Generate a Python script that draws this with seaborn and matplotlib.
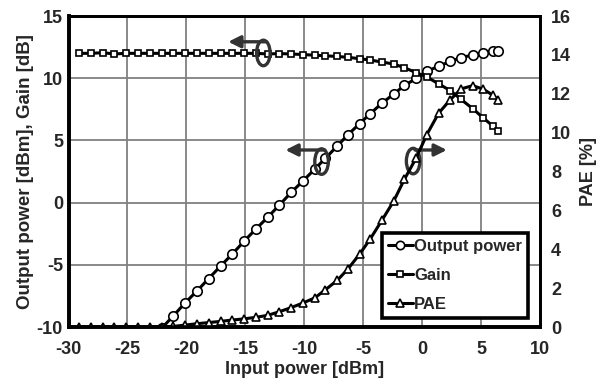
#!/usr/bin/env python3
"""PA sweep: output power, gain and PAE vs input power"""
import matplotlib
matplotlib.use('Agg')
import matplotlib.pyplot as plt
import seaborn as sns
from matplotlib.patches import Ellipse
from matplotlib.lines import Line2D

sns.set_style('white')
plt.rcParams['font.family'] = ['Liberation Sans', 'DejaVu Sans']
plt.rcParams['font.weight'] = 'bold'
plt.rcParams['axes.labelweight'] = 'bold'
plt.rcParams['axes.unicode_minus'] = False

pin = [-29.1, -28.1, -27.1, -26.1, -25.1, -24.1, -23.1, -22.1, -21.1, -20.1,
       -19.1, -18.1, -17.1, -16.1, -15.1, -14.1, -13.1, -12.1, -11.1, -10.1,
       -9.1, -8.2, -7.2, -6.3, -5.3, -4.4, -3.4, -2.4, -1.5, -0.5,
       0.4, 1.4, 2.4, 3.3, 4.3, 5.2, 6.0, 6.4]
pout = [-17.1, -16.1, -15.05, -14.15, -13.1, -12.1, -11.1, -10.1, -9.1, -8.05,
        -7.1, -6.1, -5.1, -4.13, -3.1, -2.12, -1.18, -0.19, 0.83, 1.75,
        2.7, 3.57, 4.55, 5.45, 6.35, 7.15, 8.0, 8.73, 9.42, 9.98,
        10.55, 10.97, 11.35, 11.65, 11.87, 12.05, 12.16, 12.19]
gain = [12.0, 12.0, 12.05, 11.95, 12.0, 12.0, 12.0, 12.0, 12.0, 12.0,
        12.0, 12.0, 12.0, 12.0, 12.0, 12.0, 11.95, 11.98, 11.95, 11.9,
        11.85, 11.8, 11.75, 11.68, 11.57, 11.46, 11.3, 11.14, 10.84, 10.45,
        10.1, 9.55, 9.0, 8.3, 7.55, 6.8, 6.16, 5.78]
pae = [0, 0, 0, 0, 0, 0, 0, 0, 0.03, 0.1,
       0.17, 0.23, 0.29, 0.36, 0.42, 0.5, 0.6, 0.79, 1.0, 1.24,
       1.5, 1.92, 2.4, 2.98, 3.75, 4.53, 5.5, 6.49, 7.6, 8.7,
       9.9, 11.0, 11.7, 12.25, 12.42, 12.23, 11.93, 11.7]

x_ticks = [-30, -25, -20, -15, -10, -5, 0, 5, 10]
left_ticks = [-10, -5, 0, 5, 10, 15]
right_ticks = [0, 2, 4, 6, 8, 10, 12, 14, 16]

FS = 13
LW = 2.2
ANN = '#333333'
mk = dict(markerfacecolor='white', markeredgecolor='black', markeredgewidth=1.2)

fig = plt.figure(figsize=(6.15, 3.87), dpi=100)
ax = fig.add_axes([0.1114, 0.155, 0.7666, 0.8036])
ax2 = ax.twinx()

sns.lineplot(x=pin, y=pout, ax=ax, color='black', linewidth=LW, marker='o', markersize=6.8, **mk)
sns.lineplot(x=pin, y=gain, ax=ax, color='black', linewidth=LW, marker='s', markersize=5, **mk)
sns.lineplot(x=pin, y=pae, ax=ax2, color='black', linewidth=LW, marker='^', markersize=6.3, **mk)

ax.set_xlim(-30, 10)
ax.set_ylim(-10, 15)
ax2.set_ylim(0, 16)
ax.set_xticks(x_ticks)
ax.set_yticks(left_ticks)
ax2.set_yticks(right_ticks)
ax.grid(True, color='#808080', linewidth=1.3)
ax.set_axisbelow(True)

ax.tick_params(axis='x', length=0, pad=10, labelsize=FS)
ax.tick_params(axis='y', length=0, pad=4, labelsize=FS)
ax2.tick_params(axis='y', length=0, pad=8, labelsize=FS)
for lab in ax.get_xticklabels() + ax.get_yticklabels() + ax2.get_yticklabels():
    lab.set_fontweight('bold')

ax.set_xlabel('Input power [dBm]', fontsize=FS, labelpad=2)
ax.set_ylabel('Output power [dBm], Gain [dB]', fontsize=FS + 0.5, labelpad=2)
ax2.set_ylabel('PAE [%]', fontsize=FS, labelpad=6)

for a in (ax, ax2):
    for side in ('top', 'right'):
        a.spines[side].set_linewidth(2.0)
        a.spines[side].set_color('black')
    for side in ('left', 'bottom'):
        a.spines[side].set_linewidth(2.6)
        a.spines[side].set_color('black')

# 椭圆 + 箭头标注
ellipses = [(-13.47, 12.03), (-8.53, 3.3), (-0.76, 3.34)]
for cx, cy in ellipses:
    ax.add_patch(Ellipse((cx, cy), 1.15, 2.05, fill=False, edgecolor=ANN, linewidth=2.4, zorder=5))
arrows = [((-13.2, 12.93), (-16.45, 12.93)),
          ((-8.25, 4.23), (-11.6, 4.23)),
          ((-0.6, 4.23), (2.1, 4.23))]
for start, end in arrows:
    ax.annotate('', xy=end, xytext=start,
                arrowprops=dict(arrowstyle='-|>', color=ANN, lw=2.4, mutation_scale=18,
                                shrinkA=0, shrinkB=0), zorder=5)

handles = [
    Line2D([], [], color='black', linewidth=LW, marker='o', markersize=6, **mk),
    Line2D([], [], color='black', linewidth=LW, marker='s', markersize=4.5, **mk),
    Line2D([], [], color='black', linewidth=LW, marker='^', markersize=5.5, **mk),
]
leg = ax2.legend(handles, ['Output power', 'Gain', 'PAE'], loc='lower right',
                 bbox_to_anchor=(0.975, 0.03), borderaxespad=0, fontsize=12,
                 frameon=True, fancybox=False, framealpha=1, edgecolor='black',
                 handlelength=1.5, handletextpad=0.1, labelspacing=0.85, borderpad=0.35)
leg.get_frame().set_linewidth(2.6)

plt.savefig('out.png', dpi=100)
